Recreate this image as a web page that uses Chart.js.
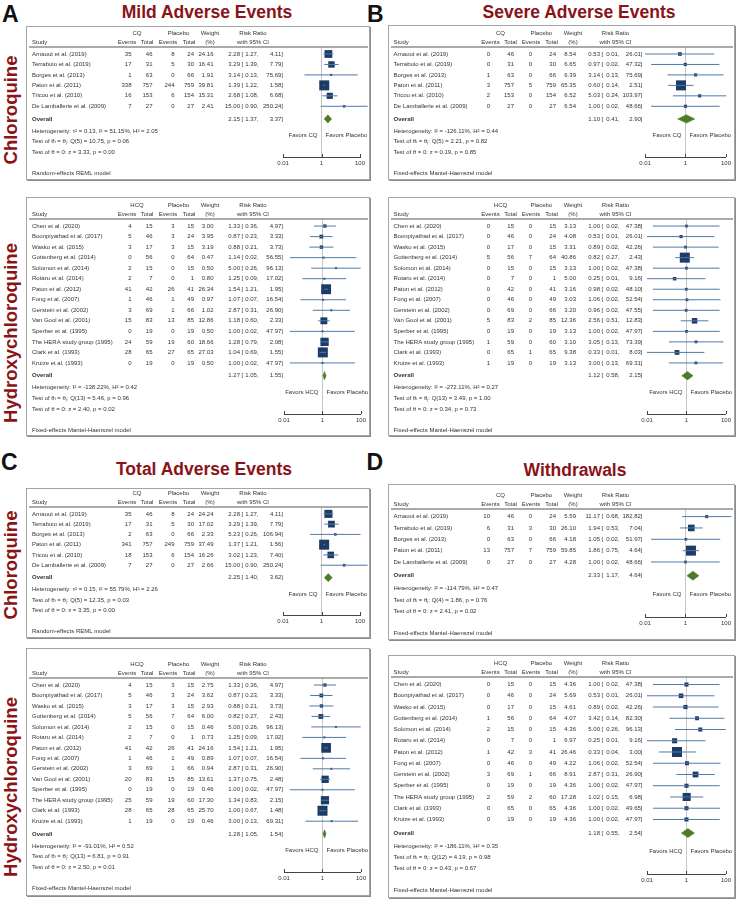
<!DOCTYPE html>
<html>
<head>
<meta charset="utf-8">
<title>CQ / HCQ forest plots</title>
<script src="https://cdn.jsdelivr.net/npm/chart.js@4.4.1/dist/chart.umd.min.js"></script>
<style>
  html, body { margin: 0; padding: 0; background: #fff; }
  #page { position: relative; width: 737px; height: 899px; overflow: hidden; font-family: "Liberation Sans", Arial, Helvetica, sans-serif; }
  .letter { position: absolute; font-size: 23px; font-weight: bold; line-height: 23px; color: #111; }
  .title { position: absolute; font-size: 17.5px; font-weight: bold; line-height: 18px; color: #8a1318; white-space: nowrap; transform: translateX(-50%); }
  .drug { position: absolute; font-size: 18.5px; font-weight: bold; line-height: 19px; color: #8a1318; white-space: nowrap; transform: translate(-50%, -50%) rotate(-90deg); }
  .box { position: absolute; border: 1px solid #a5a5a5; box-shadow: 1px 1px 0 #8c8c8c; background: #fff; overflow: hidden; }
  .box canvas { display: block; }
</style>
</head>
<body>
<div id="page">
  <div class="letter" style="left:2px; top:2.5px;">A</div>
  <div class="letter" style="left:367px; top:2.5px;">B</div>
  <div class="letter" style="left:1px; top:450.5px;">C</div>
  <div class="letter" style="left:366.5px; top:450.5px;">D</div>

  <div class="title" style="left:207px; top:3px;">Mild Adverse Events</div>
  <div class="title" style="left:579px; top:3px;">Severe Adverse Events</div>
  <div class="title" style="left:204px; top:460px;">Total Adverse Events</div>
  <div class="title" style="left:575px; top:461px;">Withdrawals</div>

  <div class="drug" style="left:10px; top:110px;">Chloroquine</div>
  <div class="drug" style="left:10px; top:333px;">Hydroxychloroquine</div>
  <div class="drug" style="left:10px; top:565px;">Chloroquine</div>
  <div class="drug" style="left:10px; top:787px;">Hydroxychloroquine</div>
</div>

<script>
// study names
const cqStudies = ['Arnaout et al. (2019)', 'Terrabuio et al. (2019)', 'Borges et al. (2013)', 'Paton et al. (2011)', 'Tricou et al. (2010)', 'De Lamballerie et al. (2009)'];
const cqStudiesWd = ['Arnaout et al. (2019)', 'Terrabuio et al. (2019)', 'Borges et al. (2013)', 'Paton et al. (2011)', 'De Lamballerie et al. (2009)'];
const hcqStudies = ['Chen et al. (2020)', 'Boonpiyathad et al. (2017)', 'Wasko et al. (2015)', 'Gottenberg et al. (2014)', 'Solomon et al. (2014)', 'Rotaru et al. (2014)', 'Paton et al. (2012)', 'Fong et al. (2007)', 'Gerstein et al. (2002)', 'Van Gool et al. (2001)', 'Sperber et al. (1995)', 'The HERA study group (1995)', 'Clark et al. (1993)', 'Kruize et al. (1993)'];
const hcqStudiesWd = ['Chen et al. (2020)', 'Boonpiyathad et al. (2017)', 'Wasko et al. (2015)', 'Gottenberg et al. (2014)', 'Solomon et al. (2014)', 'Rotaru et al. (2014)', 'Paton et al. (2012)', 'Fong et al. (2007)', 'Gerstein et al. (2002)', 'Sperber et al. (1995)', 'The HERA study group (1995)', 'Clark et al. (1993)', 'Kruize et al. (1993)'];
const xTicks = [0.01, 1, 100];

// A - mild adverse events, chloroquine  (counts: events, total, placebo events, placebo total)
const mildCqCounts = [[35, 46, 8, 24], [17, 31, 5, 30], [1, 63, 0, 66], [338, 757, 244, 759], [16, 153, 6, 154], [7, 27, 0, 27]];
const mildCqWeights = [24.16, 16.41, 1.91, 39.81, 15.31, 2.41];
const mildCqRR = [[2.28, 1.27, 4.11], [3.29, 1.39, 7.79], [3.14, 0.13, 75.69], [1.39, 1.22, 1.58], [2.68, 1.08, 6.68], [15.00, 0.90, 250.24]];
const mildCqOverall = [2.15, 1.37, 3.37];
const mildCqStats = ['Heterogeneity: τ² = 0.13, I² = 51.15%, H² = 2.05', 'Test of θᵢ = θⱼ: Q(5) = 10.75, p = 0.06', 'Test of θ = 0: z = 3.33, p = 0.00'];

// A - mild adverse events, hydroxychloroquine
const mildHcqCounts = [[4, 15, 3, 15], [5, 46, 3, 24], [3, 17, 3, 15], [0, 56, 0, 64], [2, 15, 0, 15], [2, 7, 0, 1], [41, 42, 26, 41], [1, 46, 1, 49], [3, 69, 1, 66], [15, 83, 13, 85], [0, 19, 0, 19], [24, 59, 19, 60], [28, 65, 27, 65], [0, 19, 0, 19]];
const mildHcqWeights = [3.00, 3.95, 3.19, 0.47, 0.50, 0.80, 26.34, 0.97, 1.02, 12.86, 0.50, 18.66, 27.03, 0.50];
const mildHcqRR = [[1.33, 0.36, 4.97], [0.87, 0.23, 3.33], [0.88, 0.21, 3.73], [1.14, 0.02, 56.55], [5.00, 0.26, 96.13], [1.25, 0.09, 17.02], [1.54, 1.21, 1.95], [1.07, 0.07, 16.54], [2.87, 0.31, 26.90], [1.18, 0.60, 2.33], [1.00, 0.02, 47.97], [1.28, 0.79, 2.08], [1.04, 0.69, 1.55], [1.00, 0.02, 47.97]];
const mildHcqOverall = [1.27, 1.05, 1.55];
const mildHcqStats = ['Heterogeneity: I² = -138.22%, H² = 0.42', 'Test of θᵢ = θⱼ: Q(13) = 5.46, p = 0.96', 'Test of θ = 0: z = 2.40, p = 0.02'];

// B - severe adverse events, chloroquine
const severeCqCounts = [[0, 46, 0, 24], [0, 31, 0, 30], [1, 63, 0, 66], [3, 757, 5, 759], [2, 153, 0, 154], [0, 27, 0, 27]];
const severeCqWeights = [8.54, 6.65, 6.39, 65.35, 6.52, 6.54];
const severeCqRR = [[0.53, 0.01, 26.01], [0.97, 0.02, 47.32], [3.14, 0.13, 75.69], [0.60, 0.14, 2.51], [5.03, 0.24, 103.97], [1.00, 0.02, 48.66]];
const severeCqOverall = [1.10, 0.41, 2.90];
const severeCqStats = ['Heterogeneity: I² = -126.11%, H² = 0.44', 'Test of θᵢ = θⱼ: Q(5) = 2.21, p = 0.82', 'Test of θ = 0: z = 0.19, p = 0.85'];

// B - severe adverse events, hydroxychloroquine
const severeHcqCounts = [[0, 15, 0, 15], [0, 46, 0, 24], [0, 17, 0, 15], [5, 56, 7, 64], [0, 15, 0, 15], [0, 7, 0, 1], [0, 42, 0, 41], [0, 46, 0, 49], [0, 69, 0, 66], [5, 83, 2, 85], [0, 19, 0, 19], [1, 59, 0, 60], [0, 65, 1, 65], [1, 19, 0, 19]];
const severeHcqWeights = [3.13, 4.08, 3.31, 40.86, 3.13, 5.00, 3.16, 3.03, 3.20, 12.36, 3.13, 3.10, 9.38, 3.13];
const severeHcqRR = [[1.00, 0.02, 47.38], [0.53, 0.01, 26.01], [0.89, 0.02, 42.26], [0.82, 0.27, 2.43], [1.00, 0.02, 47.38], [0.25, 0.01, 9.16], [0.98, 0.02, 48.10], [1.06, 0.02, 52.54], [0.96, 0.02, 47.55], [2.56, 0.51, 12.83], [1.00, 0.02, 47.97], [3.05, 0.13, 73.39], [0.33, 0.01, 8.03], [3.00, 0.13, 69.31]];
const severeHcqOverall = [1.12, 0.58, 2.15];
const severeHcqStats = ['Heterogeneity: I² = -272.11%, H² = 0.27', 'Test of θᵢ = θⱼ: Q(13) = 3.49, p = 1.00', 'Test of θ = 0: z = 0.34, p = 0.73'];

// C - total adverse events, chloroquine
const totalCqCounts = [[35, 46, 8, 24], [17, 31, 5, 30], [2, 63, 0, 66], [341, 757, 249, 759], [18, 153, 6, 154], [7, 27, 0, 27]];
const totalCqWeights = [24.24, 17.02, 2.33, 37.49, 16.26, 2.66];
const totalCqRR = [[2.28, 1.27, 4.11], [3.29, 1.39, 7.79], [5.23, 0.26, 106.94], [1.37, 1.21, 1.56], [3.02, 1.23, 7.40], [15.00, 0.90, 250.24]];
const totalCqOverall = [2.25, 1.40, 3.62];
const totalCqStats = ['Heterogeneity: τ² = 0.15, I² = 55.79%, H² = 2.26', 'Test of θᵢ = θⱼ: Q(5) = 12.35, p = 0.03', 'Test of θ = 0: z = 3.35, p = 0.00'];

// C - total adverse events, hydroxychloroquine
const totalHcqCounts = [[4, 15, 3, 15], [5, 46, 3, 24], [3, 17, 3, 15], [5, 56, 7, 64], [2, 15, 0, 15], [2, 7, 0, 1], [41, 42, 26, 41], [1, 46, 1, 49], [3, 69, 1, 66], [20, 83, 15, 85], [0, 19, 0, 19], [25, 59, 19, 60], [28, 65, 28, 65], [1, 19, 0, 19]];
const totalHcqWeights = [2.75, 3.62, 2.93, 6.00, 0.46, 0.73, 24.16, 0.89, 0.94, 13.61, 0.46, 17.30, 25.70, 0.46];
const totalHcqRR = [[1.33, 0.36, 4.97], [0.87, 0.23, 3.33], [0.88, 0.21, 3.73], [0.82, 0.27, 2.43], [5.00, 0.26, 96.13], [1.25, 0.09, 17.02], [1.54, 1.21, 1.95], [1.07, 0.07, 16.54], [2.87, 0.31, 26.90], [1.37, 0.75, 2.48], [1.00, 0.02, 47.97], [1.34, 0.83, 2.15], [1.00, 0.67, 1.48], [3.00, 0.13, 69.31]];
const totalHcqOverall = [1.28, 1.05, 1.54];
const totalHcqStats = ['Heterogeneity: I² = -91.01%, H² = 0.52', 'Test of θᵢ = θⱼ: Q(13) = 6.81, p = 0.91', 'Test of θ = 0: z = 2.50, p = 0.01'];

// D - withdrawals, chloroquine
const wdCqCounts = [[10, 46, 0, 24], [6, 31, 3, 30], [0, 63, 0, 66], [13, 757, 7, 759], [0, 27, 0, 27]];
const wdCqWeights = [5.59, 26.10, 4.18, 59.85, 4.28];
const wdCqRR = [[11.17, 0.68, 182.82], [1.94, 0.53, 7.04], [1.05, 0.02, 51.97], [1.86, 0.75, 4.64], [1.00, 0.02, 48.66]];
const wdCqOverall = [2.33, 1.17, 4.64];
const wdCqStats = ['Heterogeneity: I² = -114.79%, H² = 0.47', 'Test of θᵢ = θⱼ: Q(4) = 1.86, p = 0.76', 'Test of θ = 0: z = 2.41, p = 0.02'];

// D - withdrawals, hydroxychloroquine
const wdHcqCounts = [[0, 15, 0, 15], [0, 46, 0, 24], [0, 17, 0, 15], [1, 56, 0, 64], [2, 15, 0, 15], [0, 7, 0, 1], [1, 42, 3, 41], [0, 46, 0, 49], [3, 69, 1, 66], [0, 19, 0, 19], [2, 59, 2, 60], [0, 65, 0, 65], [0, 19, 0, 19]];
const wdHcqWeights = [4.36, 5.69, 4.61, 4.07, 4.36, 6.97, 26.46, 4.22, 8.91, 4.36, 17.28, 4.36, 4.36];
const wdHcqRR = [[1.00, 0.02, 47.38], [0.53, 0.01, 26.01], [0.89, 0.02, 42.26], [3.42, 0.14, 82.30], [5.00, 0.26, 96.13], [0.25, 0.01, 9.16], [0.33, 0.04, 3.00], [1.06, 0.02, 52.54], [2.87, 0.31, 26.90], [1.00, 0.02, 47.97], [1.02, 0.15, 6.98], [1.00, 0.02, 49.65], [1.00, 0.02, 47.97]];
const wdHcqOverall = [1.18, 0.55, 2.54];
const wdHcqStats = ['Heterogeneity: I² = -186.11%, H² = 0.35', 'Test of θᵢ = θⱼ: Q(12) = 4.19, p = 0.98', 'Test of θ = 0: z = 0.43, p = 0.67'];

const REML = 'Random-effects REML model';
const MH = 'Fixed-effects Mantel-Haenszel model';

// colours / fonts
const TXT = '#333', CI = '#5079a6', SQ = '#1c3b67', DM = '#4d7c28', RULE = '#8e8e8e', REF = '#c6c6c6';
const FAMILY = '"Liberation Sans", Arial, Helvetica, sans-serif';
const FS = 6.0;

// column layout inside a box (px from box left edge)
const colsLeft = { study: 6, ev: 105.5, tot: 126.5, pev: 148.5, ptot: 168, w: 187.5, rr: 214, br: 215.5, lo: 232.5, hi: 257,
                   hEv: 101, hTot: 121, hPev: 142, hPtot: 163, hW: 184, hRR: 227 };
const colsRight = { study: 5.5, ev: 102, tot: 126, pev: 144, ptot: 168, w: 188, rr: 212, br: 213.5, lo: 231.5, hi: 254.5,
                    hEv: 102.5, hTot: 122.5, hPev: 143, hPtot: 163.7, hW: 185, hRR: 227.5 };

// box: [left, top, width, height], head = header rule offset, foot = space under the axis
const panels = [
  { drug: 'CQ', names: cqStudies, counts: mildCqCounts, weights: mildCqWeights, rr: mildCqRR, overall: mildCqOverall, stats: mildCqStats, model: REML,
    right: false, box: [26, 26, 344, 154], head: 21, foot: 23, plot: [257, 334] },
  { drug: 'HCQ', names: hcqStudies, counts: mildHcqCounts, weights: mildHcqWeights, rr: mildHcqRR, overall: mildHcqOverall, stats: mildHcqStats, model: MH,
    right: false, box: [26, 197, 344, 239], head: 22, foot: 22, plot: [258, 340] },
  { drug: 'CQ', names: cqStudies, counts: severeCqCounts, weights: severeCqWeights, rr: severeCqRR, overall: severeCqOverall, stats: severeCqStats, model: MH,
    right: true, box: [388, 25, 347, 155], head: 22, foot: 23, plot: [257, 339] },
  { drug: 'HCQ', names: hcqStudies, counts: severeHcqCounts, weights: severeHcqWeights, rr: severeHcqRR, overall: severeHcqOverall, stats: severeHcqStats, model: MH,
    right: true, box: [388, 197, 347, 239], head: 22, foot: 22, plot: [259, 343] },
  { drug: 'CQ', names: cqStudies, counts: totalCqCounts, weights: totalCqWeights, rr: totalCqRR, overall: totalCqOverall, stats: totalCqStats, model: REML,
    right: false, box: [26, 488, 344, 150], head: 19, foot: 23, plot: [257, 334] },
  { drug: 'HCQ', names: hcqStudies, counts: totalHcqCounts, weights: totalHcqWeights, rr: totalHcqRR, overall: totalHcqOverall, stats: totalHcqStats, model: MH,
    right: false, box: [26, 648, 344, 248], head: 30, foot: 24, plot: [258, 340] },
  { drug: 'CQ', names: cqStudiesWd, counts: wdCqCounts, weights: wdCqWeights, rr: wdCqRR, overall: wdCqOverall, stats: wdCqStats, model: MH,
    right: true, box: [388, 484, 347, 156], head: 25, foot: 23, plot: [257, 339] },
  { drug: 'HCQ', names: hcqStudiesWd, counts: wdHcqCounts, weights: wdHcqWeights, rr: wdHcqRR, overall: wdHcqOverall, stats: wdHcqStats, model: MH,
    right: true, box: [388, 655, 347, 243], head: 22, foot: 24, plot: [259, 343] }
];

const page = document.getElementById('page');
const fmt = v => v.toFixed(2);

function buildPanel(p) {
    const [bx, by, bw, bh] = p.box;
    const W = bw - 2, H = bh - 2;   // inside the 1px border
    const X = v => v - 1;

    const box = document.createElement('div');
    box.className = 'box';
    box.style.left = bx + 'px';
    box.style.top = by + 'px';
    box.style.width = W + 'px';
    box.style.height = H + 'px';
    const canvas = document.createElement('canvas');
    canvas.width = W;
    canvas.height = H;
    canvas.style.width = W + 'px';
    canvas.style.height = H + 'px';
    box.appendChild(canvas);
    page.appendChild(box);

    const cols = p.right ? colsRight : colsLeft;
    const n = p.names.length;
    const rowY = i => i + 0.67;
    const overallY = n + 0.88;
    const statY = [n + 2.03, n + 3.05, n + 4.05];
    const yMax = n + 4.52;
    const maxW = Math.max(...p.weights);

    // confidence intervals, one short line each
    const datasets = p.rr.map((r, i) => ({
        data: [{ x: r[1], y: rowY(i) }, { x: r[2], y: rowY(i) }],
        showLine: true, borderColor: CI, borderWidth: 1, pointRadius: 0, pointHitRadius: 0, clip: false
    }));
    // point estimates, square area ~ weight
    datasets.push({
        data: p.rr.map((r, i) => ({ x: r[0], y: rowY(i) })),
        pointStyle: 'rect',
        pointRadius: p.weights.map(w => Math.max(2, 10 * Math.sqrt(w / maxW)) / Math.SQRT2),
        pointBackgroundColor: SQ, pointBorderColor: SQ, pointBorderWidth: 0, clip: false
    });
    // overall diamond
    const o = p.overall, dh = 0.4;
    datasets.push({
        data: [{ x: o[1], y: overallY }, { x: o[0], y: overallY - dh }, { x: o[2], y: overallY }, { x: o[0], y: overallY + dh }, { x: o[1], y: overallY }],
        showLine: true, fill: 'shape', backgroundColor: DM, borderColor: DM, borderWidth: 0.5, pointRadius: 0, tension: 0, clip: false
    });

    const table = {
        id: 'forestTable',
        afterDraw(chart) {
            const ctx = chart.ctx;
            const ys = chart.scales.y, xs = chart.scales.x;
            const area = chart.chartArea;
            const put = (s, x, y, align, bold) => {
                ctx.font = (bold ? 'bold ' : '') + FS + 'px ' + FAMILY;
                ctx.textAlign = align;
                ctx.fillText(s, X(x), y);
            };
            const rrText = (r, y) => {
                put(fmt(r[0]), cols.rr, y, 'right');
                put('[', cols.br, y, 'left');
                put(fmt(r[1]) + ',', cols.lo, y, 'right');
                put(fmt(r[2]) + ']', cols.hi, y, 'right');
            };
            ctx.save();
            ctx.fillStyle = TXT;
            ctx.textBaseline = 'middle';

            // header rule
            ctx.strokeStyle = RULE;
            ctx.lineWidth = 1.6;
            ctx.beginPath();
            ctx.moveTo(2, area.top);
            ctx.lineTo(W - 1, area.top);
            ctx.stroke();

            // column headers
            const h1 = area.top - 14, h2 = area.top - 5;
            put(p.drug, (cols.hEv + cols.hTot) / 2, h1, 'center');
            put('Placebo', (cols.hPev + cols.hPtot) / 2, h1, 'center');
            put('Weight', cols.hW, h1, 'center');
            put('Risk Ratio', cols.hRR, h1, 'center');
            put('Study', cols.study, h2, 'left');
            put('Events', cols.hEv, h2, 'center');
            put('Total', cols.hTot, h2, 'center');
            put('Events', cols.hPev, h2, 'center');
            put('Total', cols.hPtot, h2, 'center');
            put('(%)', cols.hW, h2, 'center');
            put('with 95% CI', cols.hRR, h2, 'center');

            // study rows
            p.names.forEach((name, i) => {
                const y = ys.getPixelForValue(rowY(i));
                const c = p.counts[i];
                put(name, cols.study, y, 'left');
                put(String(c[0]), cols.ev, y, 'right');
                put(String(c[1]), cols.tot, y, 'right');
                put(String(c[2]), cols.pev, y, 'right');
                put(String(c[3]), cols.ptot, y, 'right');
                put(fmt(p.weights[i]), cols.w, y, 'right');
                rrText(p.rr[i], y);
            });

            // overall + stats
            const oy = ys.getPixelForValue(overallY);
            put('Overall', cols.study, oy, 'left', true);
            rrText(p.overall, oy);
            p.stats.forEach((s, k) => put(s, cols.study, ys.getPixelForValue(statY[k]), 'left'));

            // favours labels either side of the null line
            const x1 = xs.getPixelForValue(1) + 1;
            const fy = ys.getPixelForValue(statY[0] + 0.45);
            put('Favors ' + p.drug, x1 - 4, fy, 'right');
            put('Favors Placebo', x1 + 4, fy, 'left');

            // upward tick marks on the axis
            ctx.strokeStyle = '#444';
            ctx.lineWidth = 1;
            xTicks.forEach(t => {
                const x = Math.round(xs.getPixelForValue(t)) + 0.5;
                ctx.beginPath();
                ctx.moveTo(x, area.bottom);
                ctx.lineTo(x, area.bottom - 3);
                ctx.stroke();
            });

            put(p.model, cols.study, area.bottom + 16.5, 'left');
            ctx.restore();
        }
    };

    new Chart(canvas, {
        type: 'scatter',
        data: { datasets: datasets },
        options: {
            responsive: false,
            animation: false,
            devicePixelRatio: 1,
            events: [],
            layout: { padding: { left: X(p.plot[0]), right: W - X(p.plot[1]), top: p.head - 1, bottom: 0 } },
            plugins: { legend: { display: false }, tooltip: { enabled: false } },
            scales: {
                x: {
                    type: 'logarithmic', min: 0.01, max: 100,
                    afterBuildTicks: s => { s.ticks = xTicks.map(v => ({ value: v })); },
                    afterFit: s => { s.height = p.foot - 1; },
                    ticks: { callback: v => String(v), font: { size: FS, family: FAMILY }, color: TXT, padding: 3, maxRotation: 0, autoSkip: false },
                    grid: { drawTicks: false, lineWidth: 1, color: c => (c.tick && c.tick.value === 1) ? REF : 'rgba(0,0,0,0)' },
                    border: { display: true, color: '#444', width: 1 }
                },
                y: { type: 'linear', display: false, reverse: true, min: 0, max: yMax }
            }
        },
        plugins: [table]
    });
}

panels.forEach(buildPanel);
</script>
</body>
</html>
